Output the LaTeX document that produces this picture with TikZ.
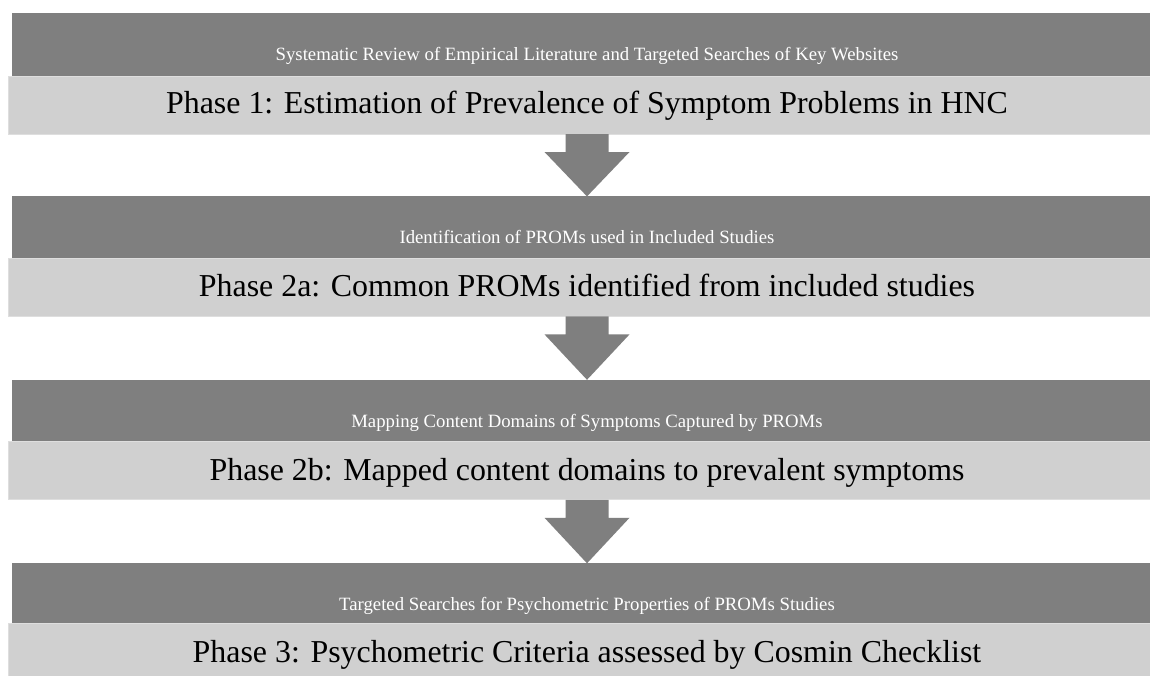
\documentclass[tikz,border=0pt]{standalone}
\usepackage{fontspec}
\setmainfont{Liberation Serif}
\usetikzlibrary{calc}
\definecolor{darkbar}{RGB}{127,127,127}
\definecolor{lightbar}{RGB}{208,208,208}
\definecolor{lightedge}{RGB}{222,222,222}
\begin{document}
\begin{tikzpicture}[x=1pt,y=-1pt,
  dbar/.style={fill=darkbar,draw=none,inner sep=0pt,outer sep=0pt,anchor=north west,minimum width=1150pt},
  lbar/.style={fill=lightbar,draw=lightedge,line width=1pt,inner sep=0pt,outer sep=0pt,anchor=north west,minimum width=1150pt},
  smalltxt/.style={text=white,inner sep=0pt,anchor=base,font=\fontsize{18.75}{22}\selectfont},
  bigtxt/.style={text=black,inner sep=0pt,anchor=base,font=\fontsize{31.9}{37}\selectfont},
  arr/.style={fill=darkbar,draw=none}]
\clip (0,0) rectangle (1150,675);
\fill[white] (0,0) rectangle (1150,675);
\coordinate (cx) at (587,0);
% section 1
\node[dbar,minimum height=63pt] (d1) at (12,13) {};
\node[lbar,minimum height=58pt] (l1) at (8.5,76) {};
\node[smalltxt] (s1) at (587,60.7) {Systematic Review of Empirical Literature and Targeted Searches of Key Websites};
\node[bigtxt] (t1) at (587,113) {Phase 1: Estimation of Prevalence of Symptom Problems in HNC};
% section 2
\node[dbar,minimum height=62pt] (d2) at (12,196.4) {};
\node[lbar,minimum height=58pt] (l2) at (8.5,258.4) {};
\node[smalltxt] (s2) at (587,243.5) {Identification of PROMs used in Included Studies};
\node[bigtxt] (t2) at (587,296.5) {Phase 2a: Common PROMs identified from included studies};
% section 3
\node[dbar,minimum height=62pt] (d3) at (12,379.8) {};
\node[lbar,minimum height=58pt] (l3) at (8.5,441.8) {};
\node[smalltxt] (s3) at (587,427) {Mapping Content Domains of Symptoms Captured by PROMs};
\node[bigtxt] (t3) at (587,480) {Phase 2b: Mapped content domains to prevalent symptoms};
% section 4
\node[dbar,minimum height=61pt] (d4) at (12,563.3) {};
\node[lbar,minimum height=58pt] (l4) at (8.5,623.8) {};
\node[smalltxt] (s4) at (587,610.5) {Targeted Searches for Psychometric Properties of PROMs Studies};
\node[bigtxt] (t4) at (587,662) {Phase 3: Psychometric Criteria assessed by Cosmin Checklist};
% arrows
\foreach \a/\b in {l1/d2,l2/d3,l3/d4}{
  \path (\a.south -| cx) coordinate (p) (\b.north -| cx) coordinate (q);
  \fill[arr] ($(p)+(-21.5,0)$) -- ($(p)+(21.5,0)$) -- ($(p)+(21.5,18)$) -- ($(p)+(42.5,18)$)
    -- (q) -- ($(p)+(-42.5,18)$) -- ($(p)+(-21.5,18)$) -- cycle;
}
\end{tikzpicture}
\end{document}
